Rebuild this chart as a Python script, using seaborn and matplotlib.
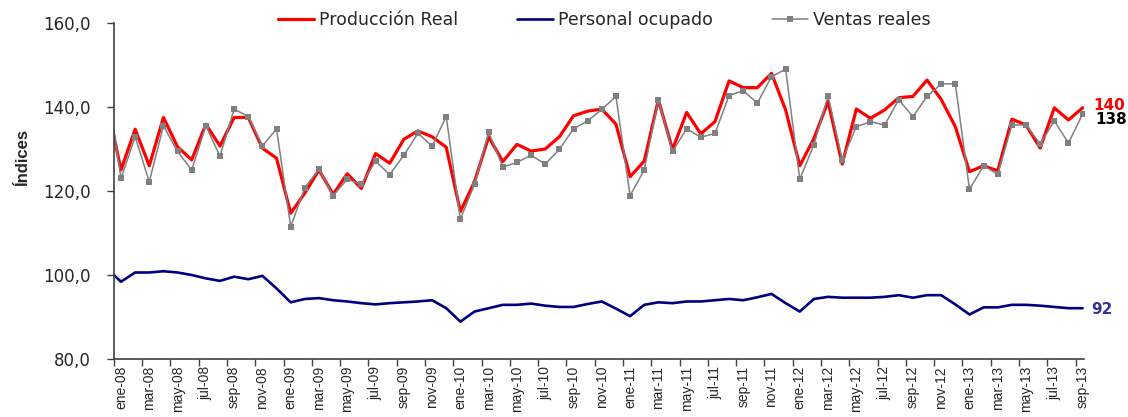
import numpy as np
import pandas as pd
import matplotlib
matplotlib.use("Agg")
import matplotlib.pyplot as plt
import seaborn as sns
from matplotlib.ticker import FuncFormatter

# ---- data (first value = dic-07, partly visible at the left edge) ----
produccion_real = [141.0,
    125.0, 134.7, 126.0, 137.5, 130.5, 127.4, 135.9, 130.7, 137.5, 137.5, 130.2, 127.8,
    114.7, 119.5, 125.0, 119.2, 124.1, 120.6, 128.9, 126.6, 132.3, 134.3, 132.9, 130.4,
    115.1, 122.2, 132.9, 127.0, 131.1, 129.5, 130.0, 132.9, 137.9, 139.0, 139.5, 135.9,
    123.4, 127.1, 141.7, 129.9, 138.7, 133.6, 136.5, 146.2, 144.6, 144.6, 148.0, 139.3,
    126.0, 132.5, 141.3, 126.4, 139.5, 137.3, 139.3, 142.2, 142.5, 146.4, 141.8, 135.3,
    124.6, 126.0, 124.8, 137.1, 135.7, 130.2, 139.8, 136.9, 139.8]

personal_ocupado = [101.6,
    98.4, 100.6, 100.6, 100.9, 100.6, 100.0, 99.2, 98.6, 99.6, 99.0, 99.8, 96.8,
    93.5, 94.3, 94.5, 94.0, 93.7, 93.3, 93.0, 93.3, 93.5, 93.7, 94.0, 92.1,
    88.9, 91.3, 92.1, 92.9, 92.9, 93.2, 92.7, 92.4, 92.4, 93.1, 93.7, 92.0,
    90.2, 92.9, 93.5, 93.3, 93.7, 93.7, 94.0, 94.3, 94.0, 94.7, 95.5, 93.3,
    91.3, 94.3, 94.8, 94.6, 94.6, 94.6, 94.8, 95.2, 94.6, 95.2, 95.2, 93.0,
    90.6, 92.3, 92.3, 92.9, 92.9, 92.7, 92.4, 92.1, 92.1]

ventas_reales = [145.5,
    123.0, 132.9, 122.2, 135.5, 129.4, 125.0, 135.5, 128.3, 139.5, 137.7, 130.7, 134.8,
    111.5, 120.8, 125.2, 118.9, 122.8, 121.6, 127.1, 123.9, 128.5, 133.7, 130.7, 137.7,
    113.3, 121.6, 134.0, 125.7, 126.8, 128.5, 126.4, 129.9, 134.8, 136.7, 139.4, 142.5,
    118.9, 125.0, 141.7, 129.4, 134.8, 132.8, 133.7, 142.7, 143.9, 140.9, 147.2, 149.0,
    122.8, 131.0, 142.7, 127.4, 135.3, 136.5, 135.7, 141.7, 137.7, 142.5, 145.5, 145.5,
    120.4, 126.0, 124.0, 135.7, 135.7, 131.2, 136.7, 131.4, 138.3]

tick_labels = ["ene-08", "mar-08", "may-08", "jul-08", "sep-08", "nov-08",
               "ene-09", "mar-09", "may-09", "jul-09", "sep-09", "nov-09",
               "ene-10", "mar-10", "may-10", "jul-10", "sep-10", "nov-10",
               "ene-11", "mar-11", "may-11", "jul-11", "sep-11", "nov-11",
               "ene-12", "mar-12", "may-12", "jul-12", "sep-12", "nov-12",
               "ene-13", "mar-13", "may-13", "jul-13", "sep-13"]

end_labels = ["140", "138", "92"]

# ---- figure ----
sns.set_style("white")
plt.rcParams["font.family"] = ["DejaVu Sans"]

fig = plt.figure(figsize=(11.28, 4.17), dpi=100)
ax = fig.add_axes([0.101, 0.139, 0.860, 0.806])

pos = np.arange(len(produccion_real)) - 1  # -1 = dic-07
df = pd.DataFrame({"pos": pos, "prod": produccion_real,
                   "pers": personal_ocupado, "vent": ventas_reales})

sns.lineplot(data=df, x="pos", y="prod", ax=ax, color="#FF0000", lw=2.3,
             label="Producción Real", sort=False)
sns.lineplot(data=df, x="pos", y="pers", ax=ax, color="#000080", lw=1.9,
             label="Personal ocupado", sort=False)
sns.lineplot(data=df, x="pos", y="vent", ax=ax, color="#808080", lw=1.1,
             marker="s", markersize=5, markeredgewidth=0,
             label="Ventas reales", sort=False)

ax.set_xlim(-0.5, 68.1)
ax.set_ylim(80, 160)
ax.set_yticks([80, 100, 120, 140, 160])
ax.yaxis.set_major_formatter(FuncFormatter(lambda v, _: f"{v:.1f}".replace(".", ",")))

ax.set_xticks(np.arange(-0.5, 68, 2))
ax.set_xticklabels([])
ax.set_xticks(np.arange(0, 69, 2), minor=True)
ax.set_xticklabels(tick_labels, minor=True, rotation=90, fontsize=10,
                   family=["Liberation Sans", "DejaVu Sans"], va="top")
ax.tick_params(axis="x", which="major", direction="out", length=5, width=1,
               color="#404040", bottom=True)
ax.tick_params(axis="x", which="minor", length=0, pad=5)
ax.tick_params(axis="y", direction="out", length=5, width=1, color="#404040",
               left=True, labelsize=12, pad=12)

for s in ["top", "right"]:
    ax.spines[s].set_visible(False)
for s in ["left", "bottom"]:
    ax.spines[s].set_color("#404040")
    ax.spines[s].set_linewidth(1.2)

ax.set_xlabel("")
ax.set_ylabel("Índices", fontsize=12, fontweight="bold",
              family=["Liberation Sans", "DejaVu Sans"])
ax.yaxis.set_label_coords(-0.086, 0.6)

# end labels
last = len(pos) - 1
ax.annotate(end_labels[0], xy=(pos[last], produccion_real[last]), xytext=(8, 2),
            textcoords="offset points", color="#FF0000", fontsize=11,
            fontweight="bold", va="center", ha="left", annotation_clip=False)
ax.annotate(end_labels[1], xy=(pos[last], ventas_reales[last]), xytext=(9, -4),
            textcoords="offset points", color="black", fontsize=11,
            fontweight="bold", va="center", ha="left", annotation_clip=False)
ax.annotate(end_labels[2], xy=(pos[last], personal_ocupado[last]), xytext=(6, -1),
            textcoords="offset points", color="#333399", fontsize=11,
            fontweight="bold", va="center", ha="left", annotation_clip=False)

handles, labels = ax.get_legend_handles_labels()
ax.get_legend().remove()
fig.legend(handles, labels, loc="center", bbox_to_anchor=(0.536, 0.952), ncol=3,
           frameon=False, handlelength=2.07, handletextpad=0.29,
           columnspacing=3.4, prop={"family": ["DejaVu Sans"], "size": 12.5})

fig.savefig("out.png", dpi=100)
